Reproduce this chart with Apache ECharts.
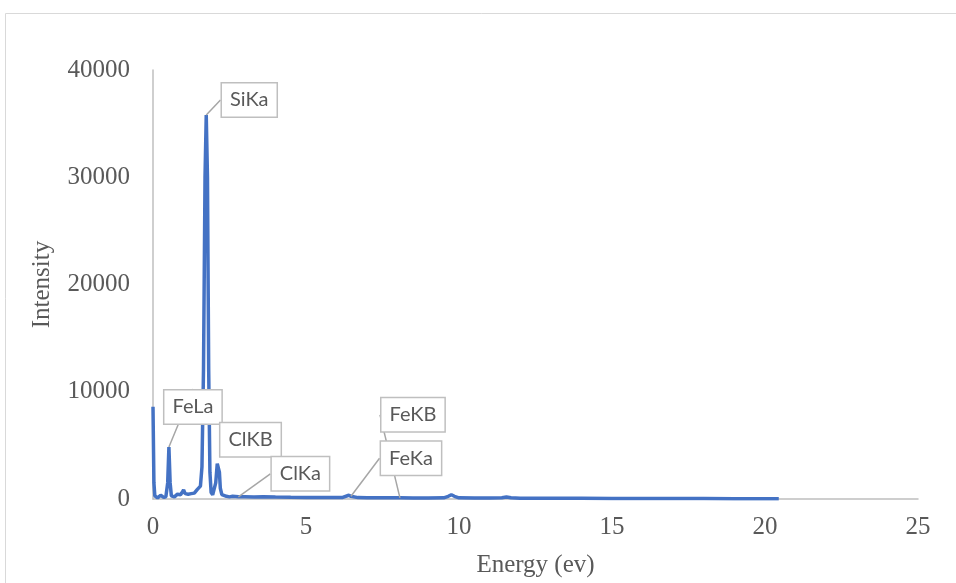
<!DOCTYPE html>
<html lang="en" style="height: 100%">
<head>
<meta charset="utf-8">
<title>EDS spectrum</title>
</head>
<body style="height: 100%; margin: 0">
<div id="container" style="width: 956px; height: 583px"></div>

<script type="text/javascript" src="https://cdn.jsdelivr.net/npm/echarts@6/dist/echarts.min.js"></script>

<script type="text/javascript">

var dom = document.getElementById('container');
var myChart = echarts.init(dom);

// spectrum
var energy = [
    0, 0.03, 0.06, 0.1, 0.15, 0.2, 0.25, 0.3, 0.35, 0.42, 0.48, 0.52, 0.56, 0.6, 0.65,
    0.7, 0.75, 0.8, 0.85, 0.9, 0.95, 1.0, 1.05, 1.1, 1.15, 1.2, 1.25, 1.3, 1.35, 1.4,
    1.45, 1.5, 1.55, 1.6, 1.65, 1.7, 1.74, 1.78, 1.82, 1.86, 1.9, 1.95, 2.0, 2.05, 2.1,
    2.13, 2.17, 2.2, 2.25, 2.3, 2.4, 2.5, 2.6, 2.79, 3.0, 3.3, 3.6, 4.0, 4.5, 5.0,
    5.5, 6.0, 6.2, 6.4, 6.47, 6.7, 7.0, 7.5, 8.07, 8.5, 9.0, 9.5, 9.65, 9.75, 9.85,
    10.0, 10.5, 11.0, 11.4, 11.55, 11.7, 12, 13, 14, 15, 16, 17, 18, 19, 20, 20.45
];
var intensity = [
    8600, 1500, 300, 150, 100, 200, 350, 250, 150, 200, 1500, 4850, 1500, 300, 250,
    200, 350, 450, 300, 400, 600, 850, 500, 350, 450, 600, 500, 450, 550, 700,
    900, 800, 1200, 3000, 12000, 30000, 35800, 30000, 12000, 2500, 600, 400, 500, 1500, 3300,
    3450, 2500, 1000, 400, 300, 250, 200, 250, 200, 200, 180, 220, 180, 160, 150,
    140, 130, 150, 350, 250, 130, 120, 110, 110, 100, 100, 110, 250, 400, 250,
    110, 90, 90, 120, 180, 110, 80, 70, 60, 50, 45, 40, 35, 30, 25, 20
];

var peakNames = ['FeLa', 'SiKa', 'ClKB', 'ClKa', 'FeKa', 'FeKB'];
var peakEnergies = [0.52, 1.74, 2.5, 2.79, 6.47, 8.07];

var xTicks = { min: 0, max: 25, interval: 5 };
var yTicks = { min: 0, max: 40000, interval: 10000 };

// where each callout box sits relative to its point (px)
var calloutOffset = {
    FeLa: [24, -40],
    SiKa: [43, -15],
    ClKB: [21, -57],
    ClKa: [62, -23],
    FeKa: [60, -38],
    FeKB: [13, -83]
};

var calloutAt = {};
var seriesData = energy.map(function (e, i) {
    var k = peakEnergies.indexOf(e);
    if (k < 0) {
        return [e, intensity[i]];
    }
    calloutAt[i] = peakNames[k];
    return {
        value: [e, intensity[i]],
        label: { show: true, formatter: peakNames[k] },
        labelLine: { show: peakNames[k] !== 'ClKB' }
    };
});

var serif = '"Liberation Serif", "Times New Roman", serif';

option = {
    animation: false,
    graphic: [{
        type: 'rect',
        shape: { x: 5.5, y: 13.5, width: 1000, height: 700 },
        style: { fill: 'none', stroke: '#d9d9d9', lineWidth: 1 },
        z: -1
    }],
    grid: { left: 153, right: 38, top: 70, bottom: 84 },
    xAxis: {
        type: 'value',
        min: xTicks.min,
        max: xTicks.max,
        interval: xTicks.interval,
        name: 'Energy (ev)',
        nameLocation: 'middle',
        nameGap: 54,
        nameTextStyle: { fontFamily: serif, fontSize: 25, color: '#595959' },
        axisLine: { show: true, lineStyle: { color: '#bfbfbf', width: 1.5 } },
        axisTick: { show: false },
        splitLine: { show: false },
        axisLabel: { margin: 16, fontFamily: serif, fontSize: 25, color: '#595959' }
    },
    yAxis: {
        type: 'value',
        min: yTicks.min,
        max: yTicks.max,
        interval: yTicks.interval,
        name: 'Intensity',
        nameLocation: 'middle',
        nameGap: 98,
        nameTextStyle: { fontFamily: serif, fontSize: 25, color: '#595959' },
        axisLine: { show: true, lineStyle: { color: '#bfbfbf', width: 1.5 } },
        axisTick: { show: false },
        splitLine: { show: false },
        axisLabel: {
            margin: 23, fontFamily: serif, fontSize: 25, color: '#595959',
            formatter: function (v) { return String(v); }
        }
    },
    series: [{
        type: 'line',
        data: seriesData,
        symbol: 'circle',
        symbolSize: 0,
        showAllSymbol: true,
        lineStyle: { color: '#4472C4', width: 3.5 },
        itemStyle: { color: '#4472C4' },
        label: {
            show: false,
            position: 'inside',
            fontFamily: 'Lato, "Open Sans", sans-serif',
            fontSize: 20,
            color: '#595959',
            backgroundColor: '#ffffff',
            borderColor: '#bfbfbf',
            borderWidth: 1.5,
            padding: [7, 8, 6, 8]
        },
        labelLine: { show: true, smooth: false, lineStyle: { color: '#a6a6a6', width: 1.5 } },
        labelLayout: function (params) {
            var name = calloutAt[params.dataIndex];
            if (!name) return {};
            return { dx: calloutOffset[name][0], dy: calloutOffset[name][1] };
        }
    }]
};

if (option && typeof option === 'object') {
    myChart.setOption(option);
}

window.addEventListener('resize', myChart.resize);
</script>
</body>
</html>
